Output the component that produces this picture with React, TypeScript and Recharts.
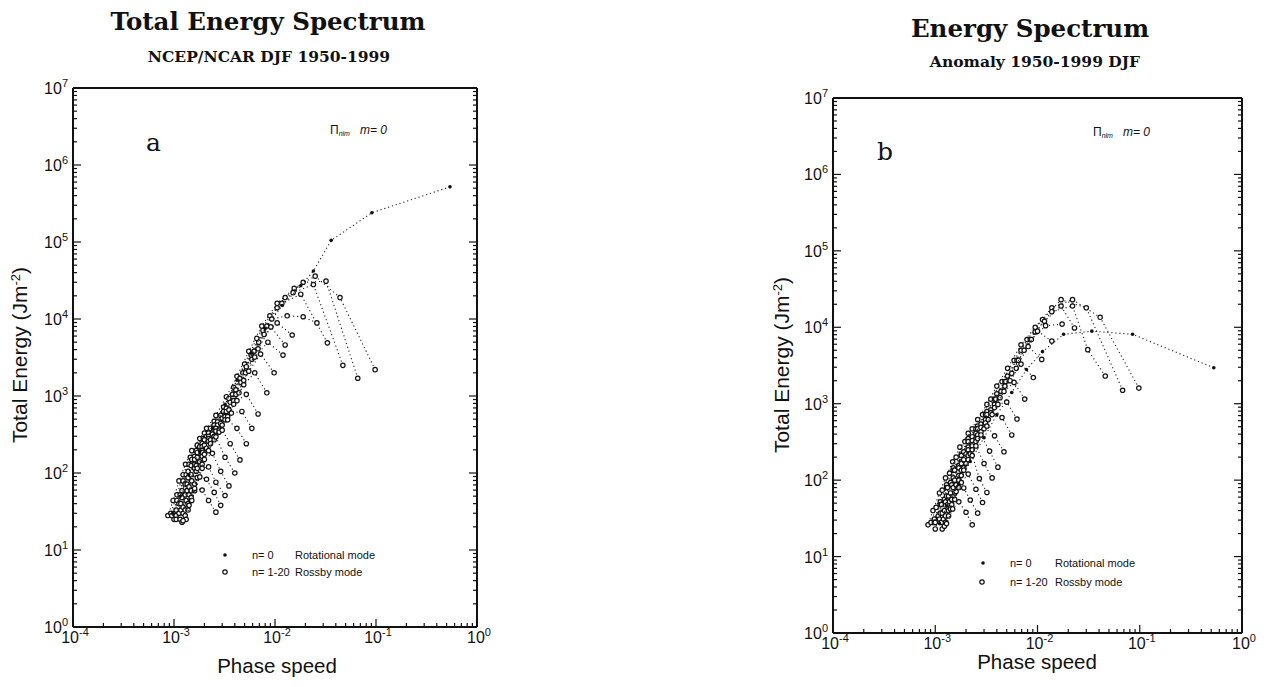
import React from "react";
import { ScatterChart, Scatter, XAxis, YAxis } from "recharts";

type Pt = [number, number];

// ---- panel a: total energy, NCEP/NCAR DJF 1950-1999 ----
const aN0: Pt[] = [[0.54,520000],[0.091,240000],[0.036,105000],[0.024,42000],[0.018,27000],[0.0118,15000],[0.008,7500],[0.0058,3600],[0.0042,1600],[0.0032,780],[0.0024,380],[0.0018,190],[0.0014,95],[0.00115,50],[0.00098,30]];
const aN1: Pt[] = [[0.098,2200],[0.044,19000],[0.025,36000],[0.0155,25000],[0.0105,16000],[0.0074,8100],[0.0055,3800],[0.0042,1800],[0.0033,980],[0.0026,560],[0.0021,380],[0.0018,280],[0.0015,195],[0.0013,130],[0.00112,79],[0.00098,44],[0.00087,28]];
const aN2: Pt[] = [[0.066,1700],[0.032,31000],[0.019,30000],[0.0126,19000],[0.0089,11000],[0.0066,5600],[0.005,2600],[0.0039,1300],[0.0031,720],[0.0025,470],[0.002,330],[0.0017,230],[0.00145,160],[0.00123,95],[0.00107,52],[0.00093,30]];
const aN3: Pt[] = [[0.047,2500],[0.024,28000],[0.0151,22000],[0.0105,14000],[0.0076,7100],[0.0058,3400],[0.0045,1700],[0.0035,930],[0.0029,560],[0.0023,380],[0.00195,280],[0.00166,195],[0.00141,130],[0.00123,79],[0.00107,44],[0.00095,28]];
const aN4: Pt[] = [[0.033,4900],[0.018,21000],[0.0117,16000],[0.0083,8100],[0.0062,3800],[0.0048,2000],[0.0038,1050],[0.0031,630],[0.0025,420],[0.0021,300],[0.0018,220],[0.0015,150],[0.00132,95],[0.00115,52],[0.001,30]];
const aN5: Pt[] = [[0.026,8900],[0.019,10700],[0.0132,11000],[0.0093,10000],[0.0069,5000],[0.0052,2400],[0.0041,1200],[0.0033,690],[0.0027,460],[0.0022,330],[0.0019,240],[0.0016,165],[0.00138,105],[0.0012,59],[0.00105,33]];
const aN6: Pt[] = [[0.0148,6200],[0.0105,8900],[0.0078,6300],[0.0059,3000],[0.0046,1500],[0.0036,830],[0.003,510],[0.0025,360],[0.002,270],[0.0017,185],[0.00148,125],[0.00129,72],[0.00112,40],[0.001,25]];
const aN7: Pt[] = [[0.0126,4600],[0.0091,7900],[0.0068,4100],[0.0051,2000],[0.0041,1050],[0.0033,630],[0.0027,420],[0.0022,300],[0.0019,220],[0.0016,150],[0.00138,87],[0.0012,48],[0.00105,28]];
const aN8: Pt[] = [[0.012,3400],[0.0085,5000],[0.0063,3200],[0.0049,1600],[0.0039,870],[0.0032,540],[0.0026,380],[0.0022,280],[0.0019,195],[0.0016,130],[0.00135,72],[0.00117,40],[0.00105,25]];
const aN9: Pt[] = [[0.0098,2000],[0.0072,3500],[0.0055,2100],[0.0044,1100],[0.0035,660],[0.0029,440],[0.0024,320],[0.002,230],[0.0017,160],[0.00148,95],[0.00129,52],[0.00112,30]];
const aN10: Pt[] = [[0.0083,1100],[0.0063,2000],[0.0049,1400],[0.0039,780],[0.0032,490],[0.0026,350],[0.0022,260],[0.0019,175],[0.0016,115],[0.00135,59],[0.00117,33]];
const aN11: Pt[] = [[0.0068,585],[0.0052,1050],[0.0042,870],[0.0034,540],[0.0028,360],[0.0023,270],[0.0019,185],[0.00166,125],[0.00141,66],[0.00123,36]];
const aN12: Pt[] = [[0.0059,380],[0.0047,630],[0.0037,600],[0.003,420],[0.0025,300],[0.0021,210],[0.0018,140],[0.0015,79],[0.00132,44],[0.00115,25]];
const aN13: Pt[] = [[0.0052,240],[0.0042,380],[0.0034,490],[0.0028,340],[0.0023,240],[0.0019,165],[0.00166,105],[0.00141,52],[0.00123,30]];
const aN14: Pt[] = [[0.0045,148],[0.0036,240],[0.003,360],[0.0025,270],[0.002,175],[0.0017,115],[0.00148,59],[0.00129,33]];
const aN15: Pt[] = [[0.004,100],[0.0032,160],[0.0026,295],[0.0022,195],[0.0019,130],[0.0016,72],[0.00138,40],[0.0012,23]];
const aN16: Pt[] = [[0.0035,68],[0.0029,105],[0.0024,180],[0.002,150],[0.0017,87],[0.00148,48],[0.00129,28]];
const aN17: Pt[] = [[0.0032,51],[0.0026,76],[0.0022,120],[0.0019,115],[0.0016,59],[0.00138,33]];
const aN18: Pt[] = [[0.0029,38],[0.0025,56],[0.0021,83],[0.0018,89],[0.0015,44],[0.00132,25]];
const aN19: Pt[] = [[0.0026,31],[0.0022,44],[0.0019,60],[0.0016,63],[0.00141,38],[0.00123,24]];
const aRossby = [aN1,aN2,aN3,aN4,aN5,aN6,aN7,aN8,aN9,aN10,aN11,aN12,aN13,aN14,aN15,aN16,aN17,aN18,aN19];

// ---- panel b: anomaly 1950-1999 DJF ----
const bN0: Pt[] = [[0.53,2950],[0.085,8100],[0.034,8900],[0.018,8100],[0.0112,4800],[0.0078,2800],[0.0056,1400],[0.004,720],[0.003,360],[0.0022,175],[0.0017,88],[0.0013,46],[0.0011,27]];
const bN1: Pt[] = [[0.098,1600],[0.041,13500],[0.022,23000],[0.0138,18000],[0.0095,10000],[0.0069,5900],[0.0051,2900],[0.004,1700],[0.0032,980],[0.0026,620],[0.0021,410],[0.00174,270],[0.00148,174],[0.00126,107],[0.0011,68],[0.00095,40],[0.00085,26]];
const bN2: Pt[] = [[0.068,1500],[0.03,18000],[0.017,23000],[0.0112,12600],[0.0079,6900],[0.0059,3700],[0.0045,1950],[0.0035,1150],[0.0029,720],[0.0023,470],[0.00195,320],[0.0016,200],[0.00138,123],[0.00117,74],[0.00102,44],[0.00091,28]];
const bN3: Pt[] = [[0.046,2300],[0.031,5100],[0.022,19000],[0.0138,16000],[0.0095,8700],[0.0069,5000],[0.0051,2300],[0.004,1350],[0.0032,790],[0.0026,510],[0.0021,350],[0.0018,220],[0.0015,145],[0.00129,87],[0.00112,52],[0.00098,31]];
const bN4: Pt[] = [[0.023,9800],[0.017,19000],[0.0117,12000],[0.0085,6900],[0.0063,3700],[0.0048,1950],[0.0038,1150],[0.0031,720],[0.0025,470],[0.0021,320],[0.0018,210],[0.0015,135],[0.00129,80],[0.00112,48],[0.00098,28]];
const bN5: Pt[] = [[0.0174,11000],[0.012,10500],[0.0087,6900],[0.0065,3700],[0.0049,1950],[0.0039,1150],[0.0032,720],[0.0026,470],[0.0021,320],[0.0018,210],[0.00155,135],[0.00132,80],[0.00115,48],[0.001,28]];
const bN6: Pt[] = [[0.0138,6600],[0.01,8900],[0.0074,5000],[0.0056,2500],[0.0044,1450],[0.0035,830],[0.0028,540],[0.0023,370],[0.0019,235],[0.0017,155],[0.00141,93],[0.00123,56],[0.00107,34]];
const bN7: Pt[] = [[0.011,3800],[0.0081,5600],[0.0062,2900],[0.0048,1700],[0.0038,980],[0.0031,620],[0.0025,410],[0.0021,270],[0.0018,174],[0.0015,107],[0.00129,62],[0.00112,37],[0.001,23]];
const bN8: Pt[] = [[0.0091,2200],[0.0069,3300],[0.0054,2000],[0.0043,1200],[0.0035,760],[0.0028,490],[0.0023,330],[0.002,220],[0.0017,145],[0.00145,87],[0.00126,52],[0.0011,31]];
const bN9: Pt[] = [[0.0075,1150],[0.0059,1900],[0.0047,1450],[0.0038,890],[0.0031,560],[0.0026,390],[0.0021,250],[0.0018,165],[0.00155,100],[0.00135,62],[0.00117,37]];
const bN10: Pt[] = [[0.0063,630],[0.005,1050],[0.0041,980],[0.0033,620],[0.0028,430],[0.0023,280],[0.0019,185],[0.0017,115],[0.00141,68],[0.00123,40]];
const bN11: Pt[] = [[0.0056,390],[0.0045,660],[0.0036,720],[0.003,470],[0.0025,320],[0.0021,210],[0.0018,135],[0.0015,80],[0.00132,48],[0.00115,28]];
const bN12: Pt[] = [[0.0047,235],[0.0038,380],[0.0032,510],[0.0026,350],[0.0022,220],[0.0019,145],[0.0016,87],[0.00138,52],[0.0012,31]];
const bN13: Pt[] = [[0.0041,148],[0.0034,240],[0.0028,390],[0.0023,250],[0.002,165],[0.0017,100],[0.00145,56],[0.00126,34]];
const bN14: Pt[] = [[0.0036,107],[0.003,165],[0.0025,280],[0.0021,185],[0.0018,115],[0.00155,68],[0.00135,40],[0.00117,23]];
const bN15: Pt[] = [[0.0032,69],[0.0027,105],[0.0023,210],[0.0019,135],[0.0017,80],[0.00145,48],[0.00126,28]];
const bN16: Pt[] = [[0.0029,51],[0.0025,76],[0.0021,120],[0.0018,93],[0.00155,56],[0.00135,34]];
const bN17: Pt[] = [[0.0026,37],[0.0022,55],[0.0019,79],[0.0016,71],[0.00141,42],[0.00123,25]];
const bN18: Pt[] = [[0.0023,26],[0.002,38],[0.0017,52],[0.00148,42],[0.00129,27]];
const bRossby = [bN1,bN2,bN3,bN4,bN5,bN6,bN7,bN8,bN9,bN10,bN11,bN12,bN13,bN14,bN15,bN16,bN17,bN18];

// axis ticks
const xDecades = [0.0001, 0.001, 0.01, 0.1, 1];
const xExps = ["-4", "-3", "-2", "-1", "0"];
const yDecades = [1, 10, 100, 1000, 10000, 100000, 1000000, 10000000];
const yExps = ["0", "1", "2", "3", "4", "5", "6", "7"];
const minorSteps = [2, 3, 4, 5, 6, 7, 8, 9];

const withMinor = (dec: number[]) =>
  dec.flatMap((d, i) => (i === dec.length - 1 ? [d] : [d, ...minorSteps.map((m) => d * m)]));
const xTicks = withMinor(xDecades);
const yTicks = withMinor(yDecades);

const SANS = '"Liberation Sans", Arial, Helvetica, sans-serif';
const SERIF = '"DejaVu Serif", "Liberation Serif", serif';

function makeTick(side: string, dec: number[], exps: string[], label: boolean) {
  return (p: any) => {
    const { x, y, payload } = p;
    const i = dec.indexOf(payload.value);
    const len = i >= 0 ? 8 : 4;
    let ln;
    if (side === "bottom") ln = <line x1={x} y1={y} x2={x} y2={y - len} />;
    else if (side === "top") ln = <line x1={x} y1={y} x2={x} y2={y + len} />;
    else if (side === "left") ln = <line x1={x} y1={y} x2={x + len} y2={y} />;
    else ln = <line x1={x} y1={y} x2={x - len} y2={y} />;
    let txt = null;
    if (label && i >= 0) {
      const common = { fontFamily: SANS, fill: "#111", stroke: "none", style: { fontSize: 16 } };
      txt =
        side === "bottom" ? (
          <text x={x + 2} y={y + 16} textAnchor="middle" {...common}>
            10<tspan dy={-7} style={{ fontSize: 11 }}>{exps[i]}</tspan>
          </text>
        ) : (
          <text x={x - 5} y={y + 6} textAnchor="end" {...common}>
            10<tspan dy={-7} style={{ fontSize: 11 }}>{exps[i]}</tspan>
          </text>
        );
    }
    return (
      <g stroke="#111" strokeWidth={1.2}>
        {ln}
        {txt}
      </g>
    );
  };
}

const axisLine = { stroke: "#111", strokeWidth: 2 };

const OpenMark = (p: any) => (
  <circle cx={p.cx} cy={p.cy} r={2.2} fill="#fff" stroke="#111" strokeWidth={1.2} />
);
const DotMark = (p: any) => <circle cx={p.cx} cy={p.cy} r={1.8} fill="#111" />;

const dotted = { stroke: "#222", strokeWidth: 1.1, strokeDasharray: "1.2 2.8" };

const toRows = (pts: Pt[]) => pts.map(([c, E]) => ({ c, E }));

// axes have 1px thickness so they render; margins are reduced by 1 to keep the plot box in place
function Panel({ width, margin, n0, rossby }: any) {
  return (
    <ScatterChart width={width} height={687} margin={margin}>
      <XAxis dataKey="c" type="number" scale="log" domain={[0.0001, 1]} allowDataOverflow ticks={xTicks}
        interval={0} height={1} tickSize={0} tickMargin={0} tickLine={false} axisLine={axisLine}
        tick={makeTick("bottom", xDecades, xExps, true)} />
      <XAxis xAxisId="top" orientation="top" type="number" scale="log" domain={[0.0001, 1]} allowDataOverflow
        ticks={xTicks} interval={0} height={1} tickSize={0} tickMargin={0} tickLine={false} axisLine={axisLine}
        tick={makeTick("top", xDecades, xExps, false)} />
      <YAxis dataKey="E" type="number" scale="log" domain={[1, 10000000]} allowDataOverflow ticks={yTicks}
        interval={0} width={1} tickSize={0} tickMargin={0} tickLine={false} axisLine={axisLine}
        tick={makeTick("left", yDecades, yExps, true)} />
      <YAxis yAxisId="right" orientation="right" type="number" scale="log" domain={[1, 10000000]} allowDataOverflow
        ticks={yTicks} interval={0} width={1} tickSize={0} tickMargin={0} tickLine={false} axisLine={axisLine}
        tick={makeTick("right", yDecades, yExps, false)} />
      {rossby.map((pts: Pt[], i: number) => (
        <Scatter key={i} data={toRows(pts)} line={dotted} lineType="joint" shape={OpenMark}
          isAnimationActive={false} />
      ))}
      <Scatter data={toRows(n0)} line={dotted} lineType="joint" shape={DotMark} isAnimationActive={false} />
    </ScatterChart>
  );
}

export default function App() {
  return (
    <div style={{ position: "absolute", left: 0, top: 0, width: 1269, height: 687, background: "#fff", overflow: "hidden" }}>
      <div style={{ position: "absolute", left: 0, top: 0 }}>
        <Panel width={500} margin={{ top: 87, left: 72, right: 22, bottom: 59 }} n0={aN0} rossby={aRossby} />
      </div>
      <div style={{ position: "absolute", left: 760, top: 0 }}>
        <Panel width={509} margin={{ top: 97, left: 72, right: 26, bottom: 53 }} n0={bN0} rossby={bRossby} />
      </div>
      <svg width={1269} height={687} style={{ position: "absolute", left: 0, top: 0, pointerEvents: "none" }}>
        <g fill="#111">
          <text x={268} y={30} textAnchor="middle" fontFamily={SERIF} fontWeight="bold" fontSize={24.5}>Total Energy Spectrum</text>
          <text x={269} y={62} textAnchor="middle" fontFamily={SERIF} fontWeight="bold" fontSize={15.5}>NCEP/NCAR DJF 1950-1999</text>
          <text x={1030} y={37} textAnchor="middle" fontFamily={SERIF} fontWeight="bold" fontSize={24.5}>Energy Spectrum</text>
          <text x={1035} y={67} textAnchor="middle" fontFamily={SERIF} fontWeight="bold" fontSize={15.5}>Anomaly 1950-1999 DJF</text>

          <text x={146} y={151} fontFamily={SERIF} fontSize={25}>a</text>
          <text x={877} y={160} fontFamily={SERIF} fontSize={25}>b</text>

          <text x={330} y={134} fontFamily={SANS} fontSize={12}>Π<tspan fontSize={7} dy={2} fontStyle="italic">nlm</tspan><tspan dx={10} dy={-2} fontStyle="italic">m= 0</tspan></text>
          <text x={1093} y={136} fontFamily={SANS} fontSize={12}>Π<tspan fontSize={7} dy={2} fontStyle="italic">nlm</tspan><tspan dx={10} dy={-2} fontStyle="italic">m= 0</tspan></text>

          <text transform="translate(27,355) rotate(-90)" textAnchor="middle" fontFamily={SANS} fontSize={21}>Total Energy (Jm<tspan dy={-7} fontSize={13}>-2</tspan><tspan dy={7}>)</tspan></text>
          <text transform="translate(789,365) rotate(-90)" textAnchor="middle" fontFamily={SANS} fontSize={21}>Total Energy (Jm<tspan dy={-7} fontSize={13}>-2</tspan><tspan dy={7}>)</tspan></text>

          <text x={277} y={673} textAnchor="middle" fontFamily={SANS} fontSize={20.5}>Phase speed</text>
          <text x={1037} y={669} textAnchor="middle" fontFamily={SANS} fontSize={20.5}>Phase speed</text>

          <circle cx={225} cy={555} r={1.8} />
          <circle cx={225} cy={572} r={2.2} fill="#fff" stroke="#111" strokeWidth={1.2} />
          <text x={252} y={559} fontFamily={SANS} fontSize={11}>n= 0</text>
          <text x={295} y={559} fontFamily={SANS} fontSize={11}>Rotational mode</text>
          <text x={252} y={576} fontFamily={SANS} fontSize={11}>n= 1-20</text>
          <text x={295} y={576} fontFamily={SANS} fontSize={11}>Rossby mode</text>

          <circle cx={983} cy={563} r={1.8} />
          <circle cx={982} cy={582} r={2.2} fill="#fff" stroke="#111" strokeWidth={1.2} />
          <text x={1010} y={567} fontFamily={SANS} fontSize={11}>n= 0</text>
          <text x={1055} y={567} fontFamily={SANS} fontSize={11}>Rotational mode</text>
          <text x={1010} y={586} fontFamily={SANS} fontSize={11}>n= 1-20</text>
          <text x={1055} y={586} fontFamily={SANS} fontSize={11}>Rossby mode</text>
        </g>
      </svg>
    </div>
  );
}
